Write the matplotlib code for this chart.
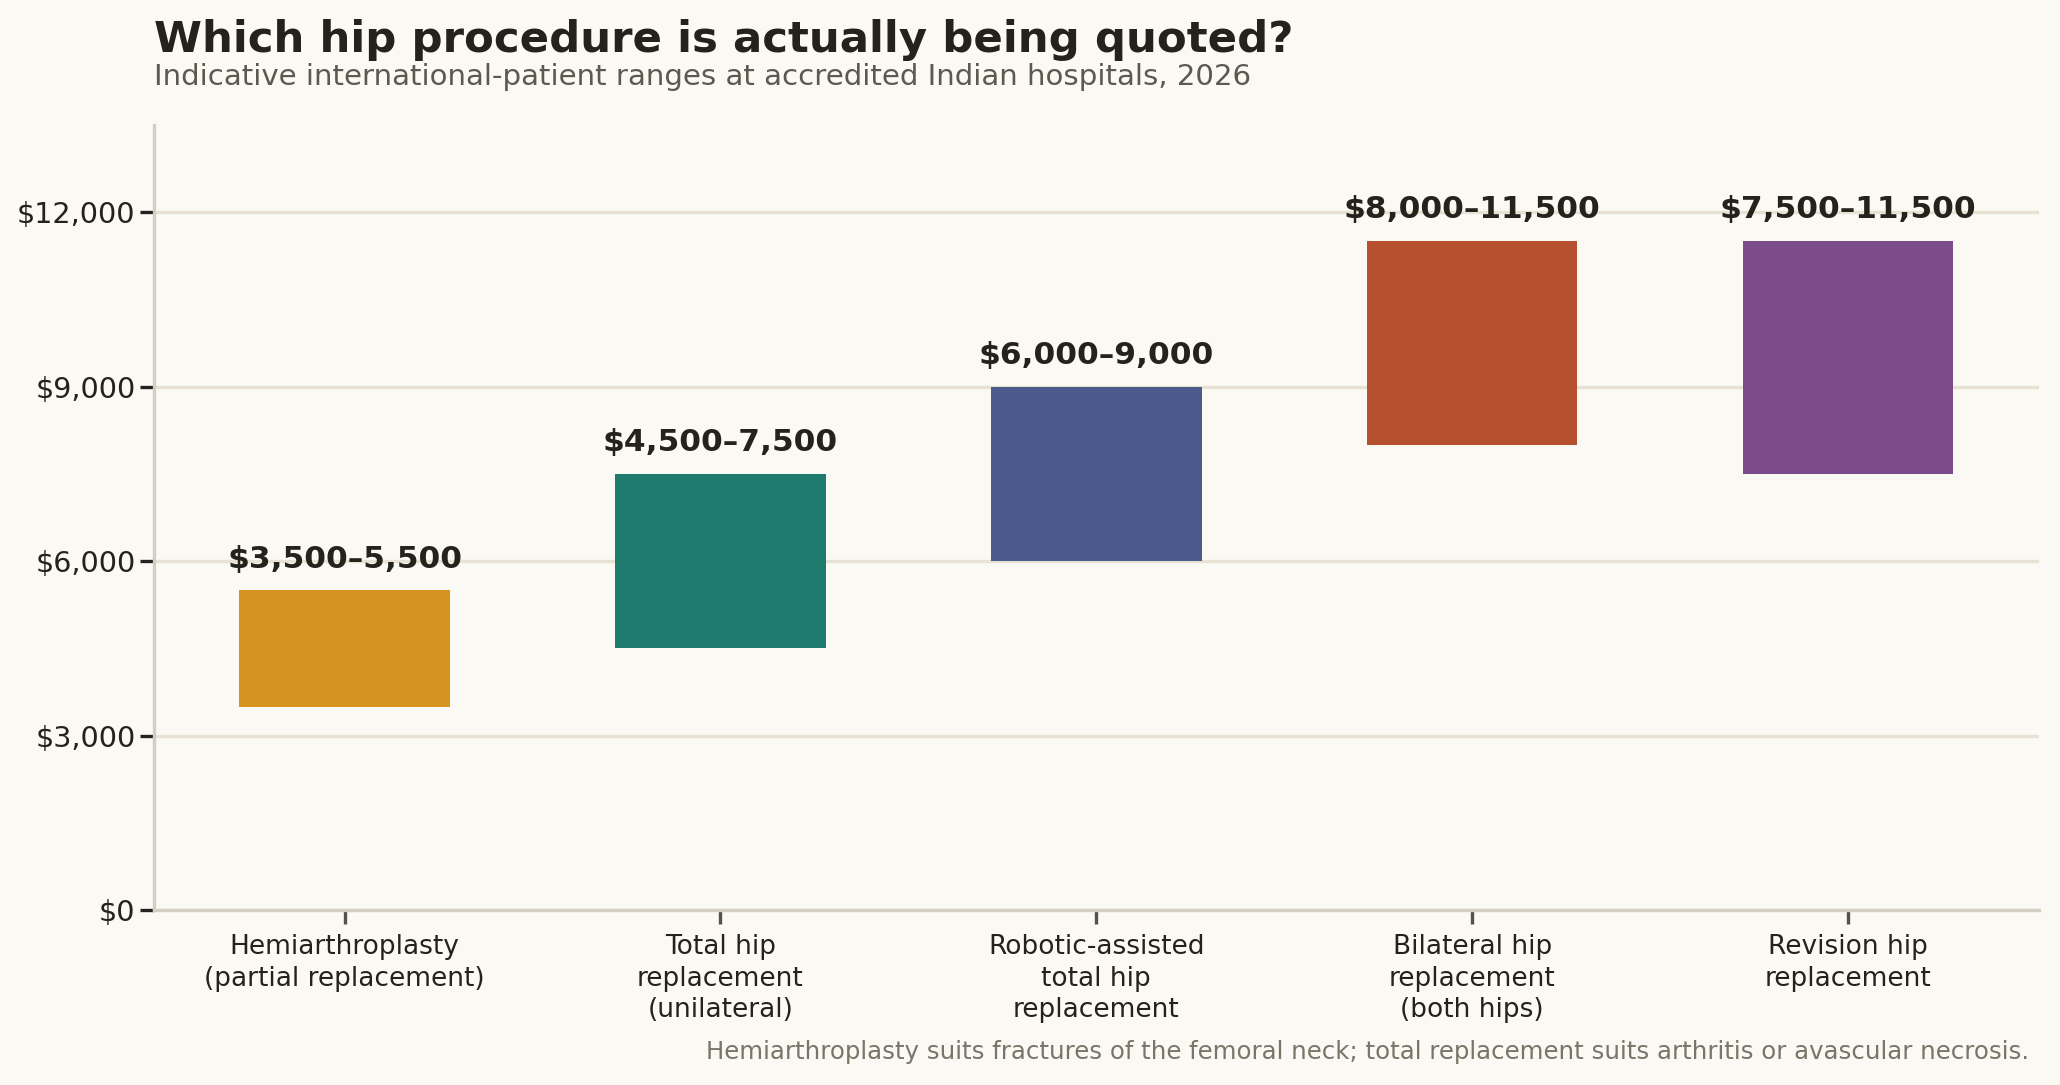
import matplotlib.pyplot as plt
from matplotlib.ticker import FuncFormatter

# data
procedures = ['Hemiarthroplasty\n(partial replacement)',
              'Total hip\nreplacement\n(unilateral)',
              'Robotic-assisted\ntotal hip\nreplacement',
              'Bilateral hip\nreplacement\n(both hips)',
              'Revision hip\nreplacement']
low = [3500, 4500, 6000, 8000, 7500]
high = [5500, 7500, 9000, 11500, 11500]
colors = ['#D4941F', '#1E7A6C', '#4A5A8B', '#B5512F', '#7B4B8A']

bg = '#FAF9F4'
dark = '#23221D'

plt.rcParams['font.family'] = 'DejaVu Sans'
fig = plt.figure(figsize=(10.3, 5.425), dpi=200, facecolor=bg)
ax = fig.add_axes([0.0746, 0.161, 0.9152, 0.724], facecolor=bg)

x = range(len(procedures))
heights = [h - l for l, h in zip(low, high)]
bars = ax.bar(x, heights, bottom=low, width=0.56, color=colors, zorder=3)

for i, (l, h) in enumerate(zip(low, high)):
    ax.annotate(f'${l:,}\u2013{h:,}', (i, h), xytext=(0, 6), textcoords='offset points',
                ha='center', va='bottom', fontsize=11.25, fontweight='bold', color=dark)

ax.set_ylim(0, 13500)
ax.set_yticks([0, 3000, 6000, 9000, 12000])
ax.yaxis.set_major_formatter(FuncFormatter(lambda v, p: f'${v:,.0f}'))
ax.set_xticks(list(x))
ax.set_xticklabels(procedures, linespacing=1.28)
ax.tick_params(axis='both', colors=dark, length=5, width=1.2)
ax.tick_params(axis='x', labelsize=9.5, color='#55524A')
ax.tick_params(axis='y', labelsize=10.3, pad=1.5)
ax.grid(axis='y', color='#E8E2D5', linewidth=1.2, zorder=0)

for s in ['top', 'right']:
    ax.spines[s].set_visible(False)
for s in ['left', 'bottom']:
    ax.spines[s].set_color('#D3CEC2')
    ax.spines[s].set_linewidth(1.2)

fig.text(0.0746, 0.952, 'Which hip procedure is actually being quoted?', fontsize=15.65,
         fontweight='bold', color=dark, va='baseline')
fig.text(0.0746, 0.922, 'Indicative international-patient ranges at accredited Indian hospitals, 2026',
         fontsize=10.55, color='#5E594F', va='baseline')
fig.text(0.985, 0.024, 'Hemiarthroplasty suits fractures of the femoral neck; total replacement suits arthritis or avascular necrosis.',
         fontsize=8.8, color='#7A7568', ha='right', va='baseline')

fig.savefig('out.png', dpi=200, facecolor=bg)
